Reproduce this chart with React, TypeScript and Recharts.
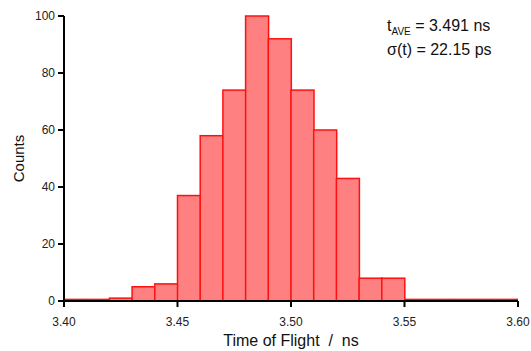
import React from 'react';
import { BarChart, Bar, XAxis, YAxis } from 'recharts';

// bin start (ns), 0.01 ns wide
const binStarts = [3.40, 3.41, 3.42, 3.43, 3.44, 3.45, 3.46, 3.47, 3.48, 3.49, 3.50, 3.51, 3.52, 3.53, 3.54, 3.55, 3.56, 3.57, 3.58, 3.59];
const counts = [0, 0, 1, 5, 6, 37, 58, 74, 100, 92, 74, 60, 43, 8, 8, 0, 0, 0, 0, 0];
const xTicks = [3.40, 3.45, 3.50, 3.55, 3.60];
const yTicks = [0, 20, 40, 60, 80, 100];

const BIN = 0.01;
const data = binStarts.map((s, i) => ({ t: +(s + BIN / 2).toFixed(3), count: counts[i] }));

const FONT = '"Liberation Sans", Arial, sans-serif';

const HistBar = (props: any) => {
  const { x, y, width, height, value, background } = props;
  const v = Array.isArray(value) ? value[1] - value[0] : value;
  if (!v) {
    // empty bin: outline sitting on the baseline
    const base = background ? background.y + background.height : y + height;
    return <line x1={x} x2={x + width} y1={base - 1.6} y2={base - 1.6} stroke="#ff1010" strokeWidth={1.5} />;
  }
  return <rect x={x} y={y} width={width} height={height} fill="#ff8080" stroke="#ff1010" strokeWidth={1.5} />;
};

const YLabel = (props: any) => {
  const vb = props.viewBox || {};
  const cy = vb.y + vb.height / 2;
  return (
    <text x={18} y={cy} transform={`rotate(-90, 18, ${cy})`} textAnchor="middle" dominantBaseline="central"
      fontFamily={FONT} fontSize={15} fill="#111">Counts</text>
  );
};

export default function App() {
  return (
    <div style={{ position: 'absolute', left: 0, top: 0, width: 531, height: 351, background: '#fff' }}>
      <BarChart width={531} height={351} data={data} barCategoryGap={0} barGap={0}
        margin={{ top: 16, right: 13, left: 0, bottom: 0 }}>
        <XAxis dataKey="t" type="number" domain={[3.4, 3.6]} ticks={xTicks} allowDataOverflow
          tickFormatter={(v: number) => v.toFixed(2)} height={50}
          axisLine={{ stroke: '#000', strokeWidth: 2 }} tickLine={{ stroke: '#000', strokeWidth: 2 }}
          tickSize={6} tick={{ fill: '#222', fontSize: 12, fontFamily: FONT }} tickMargin={10}
          label={{ value: 'Time of Flight\u00a0\u00a0/\u00a0\u00a0ns', position: 'insideBottom', offset: 5, fill: '#111', fontSize: 16, fontFamily: FONT }} />
        <YAxis type="number" domain={[0, 100]} ticks={yTicks} width={64}
          axisLine={{ stroke: '#000', strokeWidth: 2 }} tickLine={{ stroke: '#000', strokeWidth: 2 }}
          tickSize={6} tick={{ fill: '#222', fontSize: 12, fontFamily: FONT }} tickMargin={3}
          label={<YLabel />} />
        <Bar dataKey="count" isAnimationActive={false} minPointSize={1} shape={<HistBar />} />
      </BarChart>
      <div style={{ position: 'absolute', left: 387, top: 14, fontFamily: FONT, fontSize: 16, color: '#111', lineHeight: '24px' }}>
        <div>t<sub style={{ fontSize: 10, lineHeight: 0 }}>AVE</sub> = 3.491 ns</div>
        <div>σ(t) = 22.15 ps</div>
      </div>
    </div>
  );
}
